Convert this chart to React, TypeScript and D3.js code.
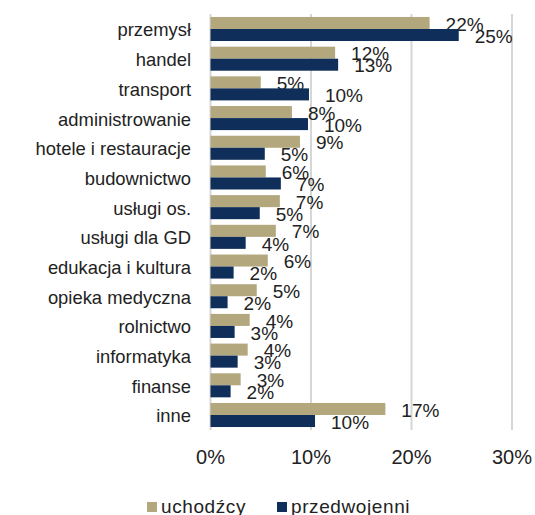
import React, { useRef, useEffect } from 'react';
import { select, scaleLinear, scaleBand } from 'd3';

const categories = [
  'przemysł', 'handel', 'transport', 'administrowanie', 'hotele i restauracje',
  'budownictwo', 'usługi os.', 'usługi dla GD', 'edukacja i kultura',
  'opieka medyczna', 'rolnictwo', 'informatyka', 'finanse', 'inne',
];
const series = ['uchodźcy', 'przedwojenni'];
// values in percent
const uchodzcy = [21.8, 12.4, 5.0, 8.1, 8.9, 5.5, 6.9, 6.5, 5.7, 4.6, 3.9, 3.7, 3.0, 17.4];
const przedwojenni = [24.7, 12.7, 9.8, 9.7, 5.4, 7.0, 4.9, 3.5, 2.3, 1.7, 2.4, 2.7, 2.0, 10.4];
const labelsU = ['22%', '12%', '5%', '8%', '9%', '6%', '7%', '7%', '6%', '5%', '4%', '4%', '3%', '17%'];
const labelsP = ['25%', '13%', '10%', '10%', '5%', '7%', '5%', '4%', '2%', '2%', '3%', '3%', '2%', '10%'];
const xTicks = [0, 10, 20, 30];
const colors = ['#b3a77e', '#0f2e59'];

const W = 535;
const H = 515;
const FONT = '"Liberation Sans", Arial, sans-serif';

const App = () => {
  const svgRef = useRef(null);

  useEffect(() => {
    const svg = select(svgRef.current);
    svg.selectAll('*').remove();

    const x = scaleLinear().domain([0, 30]).range([210.5, 512]);
    const y = scaleBand().domain(categories).range([14, 430]).paddingInner(0.19).paddingOuter(0.1);
    const ySub = scaleBand().domain(series).range([0, y.bandwidth()]);

    // grid lines
    svg.append('g')
      .selectAll('line')
      .data(xTicks)
      .enter()
      .append('line')
      .attr('x1', d => x(d))
      .attr('x2', d => x(d))
      .attr('y1', 14)
      .attr('y2', 430)
      .attr('stroke', '#d6d6d6')
      .attr('stroke-width', 2);

    // tick labels
    svg.append('g')
      .selectAll('text')
      .data(xTicks)
      .enter()
      .append('text')
      .attr('x', d => x(d))
      .attr('y', 464)
      .attr('text-anchor', 'middle')
      .attr('font-size', 20)
      .attr('fill', '#222')
      .text(d => `${d}%`);

    // category labels
    svg.append('g')
      .selectAll('text')
      .data(categories)
      .enter()
      .append('text')
      .attr('x', 191)
      .attr('y', d => y(d) + y.bandwidth() / 2 + 1)
      .attr('dy', '0.35em')
      .attr('text-anchor', 'end')
      .attr('font-size', 18.4)
      .attr('fill', '#222')
      .text(d => d);

    const groups = [uchodzcy, przedwojenni];
    const labels = [labelsU, labelsP];

    groups.forEach((vals, si) => {
      const key = series[si];
      const g = svg.append('g');
      g.selectAll('rect')
        .data(vals)
        .enter()
        .append('rect')
        .attr('x', x(0))
        .attr('y', (d, i) => y(categories[i]) + ySub(key))
        .attr('width', d => x(d) - x(0))
        .attr('height', ySub.bandwidth())
        .attr('fill', colors[si]);

      g.selectAll('text')
        .data(vals)
        .enter()
        .append('text')
        .attr('x', d => x(d) + 16)
        .attr('y', (d, i) => y(categories[i]) + ySub(key) + ySub.bandwidth() / 2 + 1)
        .attr('dy', '0.35em')
        .attr('font-size', 19)
        .attr('fill', '#222')
        .text((d, i) => labels[si][i]);
    });

    // legend
    const legendX = [147, 277];
    const legend = svg.append('g');
    series.forEach((s, i) => {
      legend.append('rect')
        .attr('x', legendX[i])
        .attr('y', 502)
        .attr('width', 10)
        .attr('height', 10)
        .attr('fill', colors[i]);
      legend.append('text')
        .attr('x', legendX[i] + 14)
        .attr('y', 513)
        .attr('font-size', 19)
        .attr('letter-spacing', 0.6)
        .attr('fill', '#222')
        .text(s);
    });
  }, []);

  return (
    <svg
      ref={svgRef}
      width={W}
      height={H}
      style={{ position: 'absolute', left: 0, top: 0, background: '#fff', fontFamily: FONT }}
    />
  );
};

export default App;
